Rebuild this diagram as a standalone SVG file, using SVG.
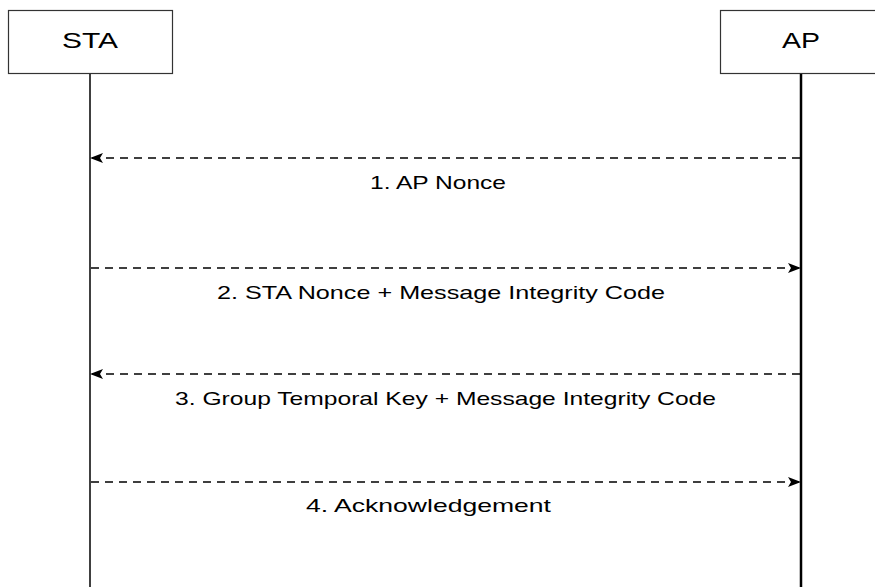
<svg xmlns="http://www.w3.org/2000/svg" width="875" height="587" viewBox="0 0 875 587">
  <style>
    .box { fill: #ffffff; stroke: #333333; stroke-width: 1.2; }
    .name { font-family: "Liberation Sans", Arial, sans-serif; font-size: 22px; fill: #000000; text-anchor: middle; }
    .life { stroke: #000000; fill: none; }
    .msg { stroke: #000000; stroke-width: 1.5; stroke-dasharray: 8 6; fill: none; }
    .label { font-family: "Liberation Sans", Arial, sans-serif; font-size: 19px; fill: #000000; }
  </style>
  <defs>
    <marker id="arrow" viewBox="0 0 13 10" refX="12" refY="5" markerWidth="13" markerHeight="10" markerUnits="userSpaceOnUse" orient="auto">
      <path d="M0,0 L13,5 L0,10 L3,5 Z" fill="#000000"/>
    </marker>
  </defs>

  <g id="sta">
    <rect class="box" x="8.5" y="10.5" width="164" height="63"/>
    <text class="name" x="90" y="48" textLength="56" lengthAdjust="spacingAndGlyphs">STA</text>
    <line class="life" x1="90" y1="74" x2="90" y2="587" stroke-width="1.5"/>
  </g>

  <g id="ap">
    <rect class="box" x="720.5" y="10.5" width="160" height="63"/>
    <text class="name" x="801" y="48" textLength="38" lengthAdjust="spacingAndGlyphs">AP</text>
    <line class="life" x1="801" y1="74" x2="801" y2="587" stroke-width="2.5"/>
  </g>

  <g id="connectors">
    <line class="msg" x1="800" y1="158" x2="91" y2="158" marker-end="url(#arrow)"/>
    <line class="msg" x1="91" y1="268" x2="800" y2="268" marker-end="url(#arrow)"/>
    <line class="msg" x1="800" y1="374" x2="91" y2="374" marker-end="url(#arrow)"/>
    <line class="msg" x1="91" y1="482" x2="800" y2="482" marker-end="url(#arrow)"/>
  </g>

  <g id="labels">
    <text class="label" x="370" y="189" textLength="136" lengthAdjust="spacingAndGlyphs">1. AP Nonce</text>
    <text class="label" x="217" y="299" textLength="448" lengthAdjust="spacingAndGlyphs">2. STA Nonce + Message Integrity Code</text>
    <text class="label" x="175" y="405" textLength="541" lengthAdjust="spacingAndGlyphs">3. Group Temporal Key + Message Integrity Code</text>
    <text class="label" x="306" y="512" textLength="245" lengthAdjust="spacingAndGlyphs">4. Acknowledgement</text>
  </g>
</svg>
